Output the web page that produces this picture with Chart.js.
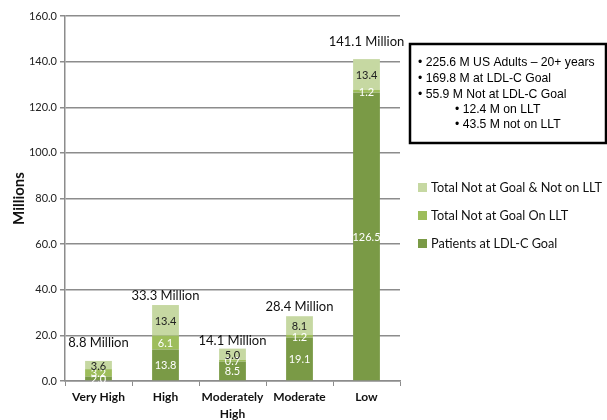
<!DOCTYPE html>
<html>
<head>
<meta charset="utf-8">
<script src="https://cdn.jsdelivr.net/npm/chart.js@4.4.1/dist/chart.umd.min.js"></script>
<style>
  html, body { margin: 0; padding: 0; background: #fff; }
  #wrap { width: 607px; height: 420px; }
</style>
</head>
<body>
<div id="wrap"><canvas id="riskChart" width="607" height="420"></canvas></div>
<script>
// values (millions)
var categories = [["Very High"], ["High"], ["Moderately", "High"], ["Moderate"], ["Low"]];
var atGoal = [2.0, 13.8, 8.5, 19.1, 126.5];
var notAtGoalOnLLT = [3.2, 6.1, 0.7, 1.2, 1.2];
var notAtGoalNotOnLLT = [3.6, 13.4, 5.0, 8.1, 13.4];
var totals = [8.8, 33.3, 14.1, 28.4, 141.1];
var seriesNames = ["Patients at LDL-C Goal", "Total Not at Goal On LLT", "Total Not at Goal & Not on LLT"];
var yTicks = [0, 20, 40, 60, 80, 100, 120, 140, 160];
var noteLines = [
    "\u2022 225.6 M US Adults \u2013 20+ years",
    "\u2022 169.8 M at LDL-C Goal",
    "\u2022 55.9 M Not at LDL-C Goal",
    "\u2022 12.4 M on LLT",
    "\u2022 43.5 M not on LLT"
];

var gridGray = "#8c8c8c";
var labelFont = "Lato, 'DejaVu Sans', sans-serif";

// segment values, totals above bars, the note box and the legend
var annotate = {
    id: "annotate",
    afterDatasetsDraw: function(chart) {
        var ctx = chart.ctx;
        var inkColors = ["#ffffff", "#ffffff", "#222222"];
        ctx.save();
        ctx.textAlign = "center";
        ctx.textBaseline = "middle";
        chart.data.datasets.forEach(function(ds, di) {
            var meta = chart.getDatasetMeta(di);
            ctx.fillStyle = inkColors[di];
            ctx.font = "11px " + labelFont;
            meta.data.forEach(function(bar, i) {
                var mid = (bar.y + bar.base) / 2;
                ctx.fillText(ds.data[i].toFixed(1), bar.x, mid + 1);
            });
        });
        // totals
        var lift = [18, 9, 8, 9, 17];
        var topMeta = chart.getDatasetMeta(2);
        ctx.fillStyle = "#111";
        ctx.font = "13px " + labelFont;
        topMeta.data.forEach(function(bar, i) {
            ctx.fillText(totals[i].toFixed(1) + " Million", bar.x, bar.y - lift[i]);
        });
        ctx.restore();
    },
    afterDraw: function(chart) {
        var ctx = chart.ctx;
        ctx.save();
        // note box
        ctx.fillStyle = "#ffffff";
        ctx.fillRect(409, 43, 197, 100);
        ctx.strokeStyle = "#000";
        ctx.lineWidth = 2.5;
        ctx.strokeRect(410, 44, 196, 99);
        ctx.fillStyle = "#000";
        ctx.font = "12.2px 'Liberation Sans', Arial, sans-serif";
        ctx.textBaseline = "middle";
        ctx.textAlign = "left";
        var ys = [63, 79, 95, 110, 125];
        noteLines.forEach(function(t, i) {
            var x = i < 3 ? 418 : 455;
            ctx.fillText(t, x, ys[i]);
        });
        // legend (top series first)
        var order = [2, 1, 0];
        var legY = [188, 216, 244];
        ctx.font = "12.7px " + labelFont;
        order.forEach(function(di, k) {
            var ds = chart.data.datasets[di];
            ctx.fillStyle = ds.backgroundColor;
            ctx.fillRect(418, legY[k] - 5, 9, 9);
            ctx.fillStyle = "#111";
            ctx.fillText(ds.label, 431, legY[k]);
        });
        ctx.restore();
    }
};

new Chart(document.getElementById("riskChart"), {
    type: "bar",
    data: {
        labels: categories,
        datasets: [
            { label: seriesNames[0], data: atGoal, backgroundColor: "#7a9a46" },
            { label: seriesNames[1], data: notAtGoalOnLLT, backgroundColor: "#9dbd5b" },
            { label: seriesNames[2], data: notAtGoalNotOnLLT, backgroundColor: "#c6d8a2" }
        ]
    },
    options: {
        responsive: false,
        animation: false,
        layout: { padding: { top: 16, right: 207, bottom: 0, left: 0 } },
        datasets: { bar: { barPercentage: 0.4, categoryPercentage: 1.0 } },
        plugins: {
            legend: { display: false },
            tooltip: { enabled: false }
        },
        scales: {
            x: {
                stacked: true,
                afterFit: function(s) { s.height = 39; },
                grid: { drawOnChartArea: false, drawTicks: true, tickLength: 5, color: gridGray, offset: true },
                border: { color: gridGray, width: 1.5 },
                ticks: {
                    color: "#111",
                    font: { family: labelFont, size: 12, weight: "bold", lineHeight: 1.4 },
                    padding: 3,
                    maxRotation: 0,
                    autoSkip: false
                }
            },
            y: {
                stacked: true,
                min: 0,
                max: 160,
                afterFit: function(s) { s.width = 65; },
                afterBuildTicks: function(s) { s.ticks = yTicks.map(function(v) { return { value: v }; }); },
                grid: { color: gridGray, lineWidth: 1.5, tickLength: 5 },
                border: { color: gridGray, width: 1.5 },
                ticks: {
                    color: "#222",
                    font: { family: labelFont, size: 11 },
                    padding: 3,
                    callback: function(v) { return Number(v).toFixed(1); }
                },
                title: {
                    display: true,
                    text: "Millions",
                    color: "#111",
                    font: { family: labelFont, size: 15, weight: "bold" },
                    padding: { top: 10, bottom: 0 }
                }
            }
        }
    },
    plugins: [annotate]
});
</script>
</body>
</html>
